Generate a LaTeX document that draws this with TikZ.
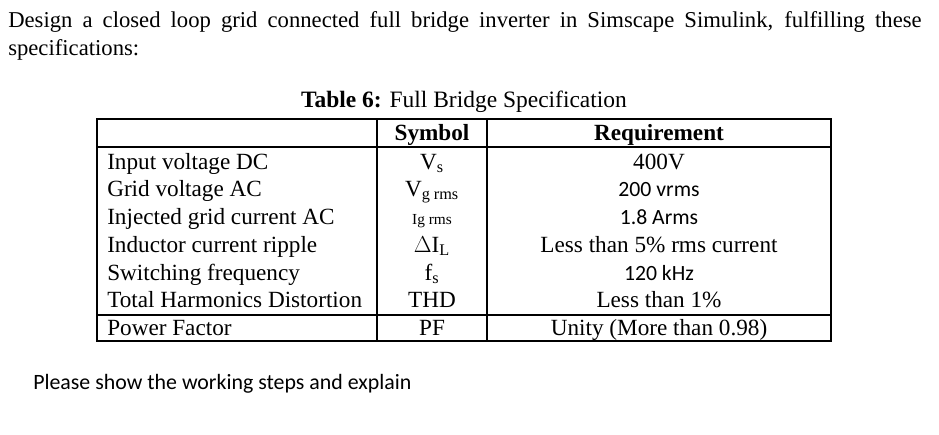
\documentclass[tikz,border=0pt]{standalone}
\usepackage{fontspec}
\setmainfont{Liberation Serif}
\newfontfamily\carl{Carlito}
\begin{document}
\begin{tikzpicture}[x=0.75pt,y=-0.75pt,
  tx/.style={inner sep=0pt,font=\fontsize{17.4}{19}\selectfont},
  cl/.style={inner sep=0pt,font=\fontsize{16.3}{18}\selectfont\carl}]
\useasboundingbox[fill=white] (0,0) rectangle (939,435);
\node[anchor=base west,inner sep=0pt,font=\fontsize{17}{19}\selectfont] (l1) at (8,28) {\makebox[685pt][s]{Design a closed loop grid connected full bridge inverter in Simscape Simulink, fulfilling these}};
\node[anchor=base west,inner sep=0pt,font=\fontsize{17}{19}\selectfont] (l2) at (8,56) {specifications:};
\node[anchor=base,inner sep=0pt,font=\fontsize{17.6}{19}\selectfont] (cap) at (464,108) {\textbf{Table 6:} Full Bridge Specification};
\draw[line width=0.8pt] (97,119) rectangle (831,341);
\draw[line width=0.8pt] (377,119) -- (377,341) (487,119) -- (487,341) (97,147) -- (831,147) (97,315) -- (831,315);
\foreach \y/\a/\b/\c/\f in {141/{}/\textbf{Symbol}/\textbf{Requirement}/tx,
 169/Input voltage DC/V\textsubscript{s}/400V/tx,
 196/Grid voltage AC/V\textsubscript{g rms}/200 vrms/cl,
 224/Injected grid current AC/{\fontsize{11.5}{12}\selectfont Ig rms}/1.8 Arms/cl,
 252/Inductor current ripple/$\Delta$I\textsubscript{L}/Less than 5\% rms current/tx,
 280/Switching frequency/f\textsubscript{s}/120 kHz/cl,
 307/Total Harmonics Distortion/THD/Less than 1\%/tx,
 335/Power Factor/PF/Unity (More than 0.98)/tx}{
 \node[tx,anchor=base west] at (107,\y) {\a};
 \node[tx,anchor=base] at (432,\y) {\b};
 \node[\f,anchor=base] at (659,\y) {\c};
}
\node[anchor=base west,inner sep=0pt,font=\fontsize{16.4}{18}\selectfont\carl] (pl) at (33,389) {Please show the working steps and explain};
\end{tikzpicture}
\end{document}
